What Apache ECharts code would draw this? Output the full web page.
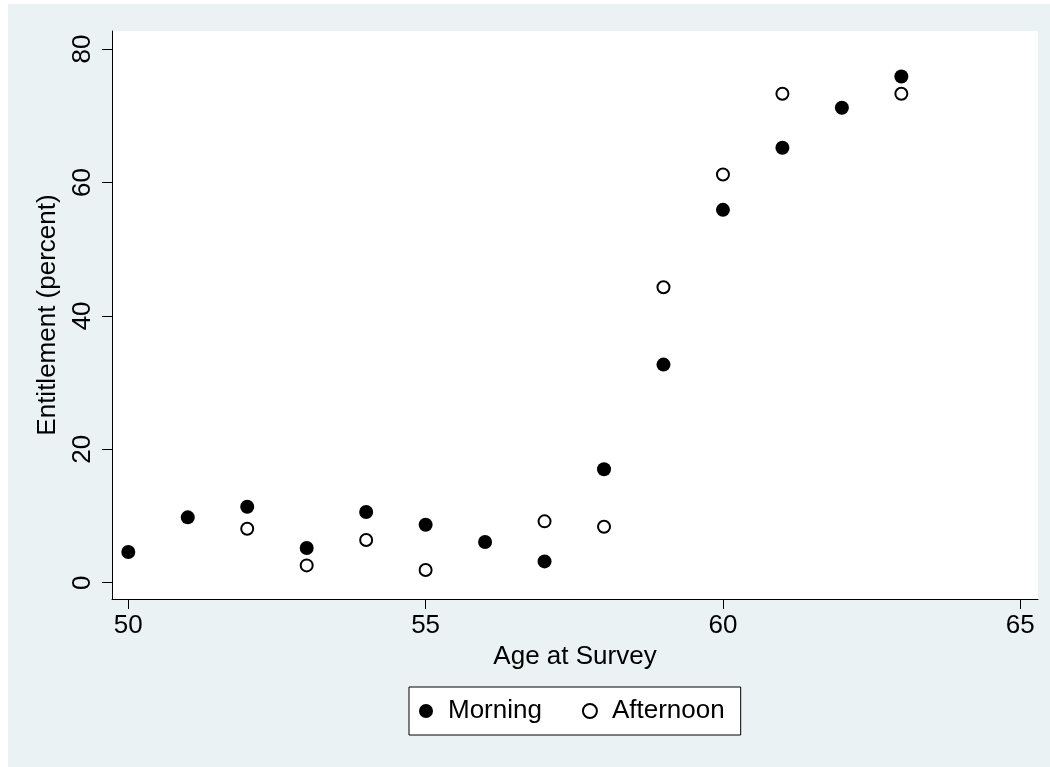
<!DOCTYPE html>
<html>
<head>
<meta charset="utf-8">
<script src="https://cdn.jsdelivr.net/npm/echarts@6/dist/echarts.min.js"></script>
<style>
	body{margin:0;background:#fff;}
	#scatter{position:absolute;left:8px;top:4px;width:1042px;height:763px;}
</style>
</head>
<body>
<div id="scatter"></div>
<script>
var ages = [50,51,52,53,54,55,56,57,58,59,60,61,62,63]
var morning = [4.6,9.8,11.4,5.2,10.6,8.7,6.1,3.2,17.0,32.7,55.9,65.2,71.2,75.9]
var afternoon = [null,null,8.1,2.6,6.4,1.9,null,9.2,8.4,44.3,61.2,73.3,null,73.3]
var xTicks = [50,55,60,65]
var yTicks = [0,20,40,60,80]

function toPairs(xs,ys){   //skip the missing ones
	var out = []
	for(var i=0;i<xs.length;i++){
		if(ys[i]!==null) out.push([xs[i],ys[i]])
	}
	return out
}

function drawScatter(){
	var font = 'Liberation Sans, Arial, sans-serif'
	var option = {
		backgroundColor:'#eaf2f3',
		animation:false,
		grid:{left:104,right:12,top:27,bottom:168,show:true,backgroundColor:'#fff',borderWidth:0},
		legend:{
			left:401,top:683,
			orient:'horizontal',
			backgroundColor:'#fff',borderColor:'#000',borderWidth:1,
			padding:[11,16,11,10],
			itemWidth:14,itemHeight:14,itemGap:40,
			textStyle:{fontFamily:font,fontSize:26,color:'#000',padding:[0,0,0,10]},
			data:[
				{name:'Morning',icon:'circle',itemStyle:{color:'#000',borderWidth:0}},
				{name:'Afternoon',icon:'circle',itemStyle:{color:'#fff',borderColor:'#000',borderWidth:2}}
			]
		},
		xAxis:{
			type:'value',min:49.726,max:65.298,
			name:'Age at Survey',nameLocation:'middle',nameGap:44,
			nameTextStyle:{fontFamily:font,fontSize:26,color:'#000'},
			axisLine:{show:true,onZero:false,lineStyle:{color:'#000',width:1}},
			axisTick:{show:true,length:10,customValues:xTicks,lineStyle:{color:'#000'}},
			axisLabel:{margin:14,customValues:xTicks,fontFamily:font,fontSize:26,color:'#000'},
			splitLine:{show:false}
		},
		yAxis:{
			type:'value',min:-2.44,max:82.71,
			name:'Entitlement (percent)',nameLocation:'middle',nameGap:51,nameRotate:90,
			nameTextStyle:{fontFamily:font,fontSize:26,color:'#000'},
			axisLine:{show:true,onZero:false,lineStyle:{color:'#000',width:1}},
			axisTick:{show:true,length:10,customValues:yTicks,lineStyle:{color:'#000'}},
			axisLabel:{margin:16,rotate:90,customValues:yTicks,fontFamily:font,fontSize:26,color:'#000'},
			splitLine:{show:false}
		},
		series:[{
			name:'Morning',type:'scatter',
			symbol:'circle',symbolSize:14,
			itemStyle:{color:'#000',opacity:1},
			data:toPairs(ages,morning)
		},{
			name:'Afternoon',type:'scatter',
			symbol:'circle',symbolSize:12,
			itemStyle:{color:'rgba(0,0,0,0)',borderColor:'#000',borderWidth:2,opacity:1},
			data:toPairs(ages,afternoon)
		}]
	}
	var myChart = echarts.init(document.getElementById('scatter'))
	myChart.setOption(option)
}
drawScatter()
</script>
</body>
</html>
